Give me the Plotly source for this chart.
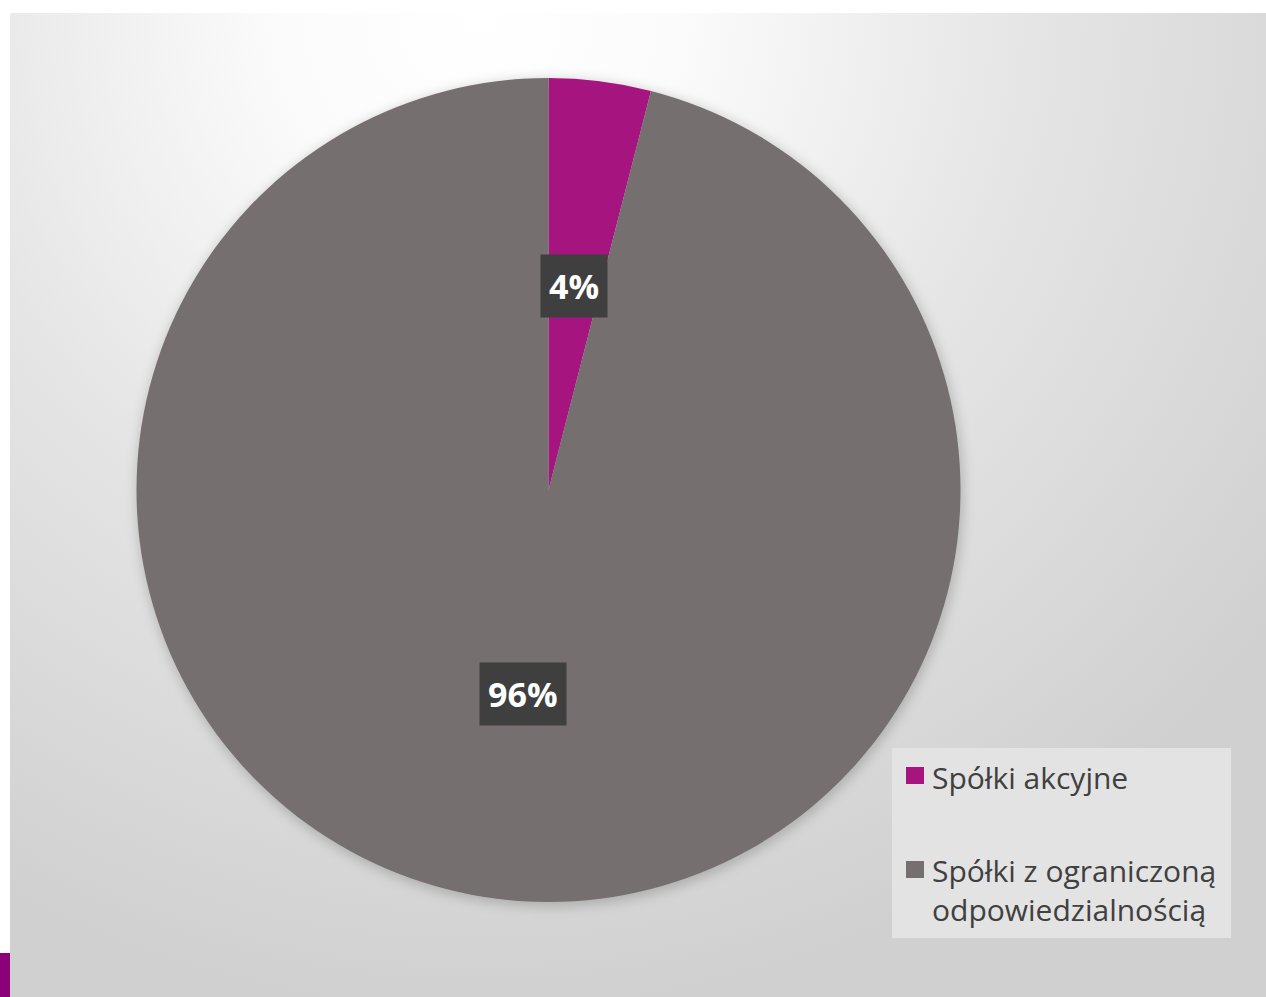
import math
import plotly.graph_objects as go

# Company legal forms share
categories = ["Spółki akcyjne", "Spółki z ograniczoną odpowiedzialnością"]
legend_labels = ["Spółki akcyjne", "Spółki z ograniczoną<br>odpowiedzialnością"]
values = [4, 96]
colors = ["#A5147F", "#756F6F"]

W, H = 1266, 997


def px(x):
    return x / W


def py(y):
    return 1 - y / H


# pie geometry (pixels)
cx, cy, r = 548.5, 490, 412

# radial gradient backdrop for the chart area
bg_svg = (
    "data:image/svg+xml;utf8,"
    "<svg xmlns='http://www.w3.org/2000/svg' width='1256' height='984'>"
    "<defs><radialGradient id='g' cx='470' cy='0' r='1000' gradientUnits='userSpaceOnUse'>"
    "<stop offset='0' stop-color='%23ffffff'/>"
    "<stop offset='0.2' stop-color='%23fbfbfb'/>"
    "<stop offset='0.55' stop-color='%23e5e5e5'/>"
    "<stop offset='1' stop-color='%23d0d0d0'/>"
    "</radialGradient>"
    "<filter id='b'><feGaussianBlur stdDeviation='6'/></filter></defs>"
    "<rect width='1256' height='984' fill='url(%23g)'/>"
    "<circle cx='540' cy='480' r='414' fill='%23000000' fill-opacity='0.18' filter='url(%23b)'/>"
    "</svg>"
)

fig = go.Figure()
fig.add_trace(go.Pie(
    labels=categories,
    values=values,
    marker=dict(colors=colors, line=dict(width=0)),
    sort=False,
    direction="clockwise",
    rotation=0,
    textinfo="none",
    showlegend=False,
    domain=dict(x=[px(cx - r), px(cx + r)], y=[py(cy + r), py(cy - r)]),
))

# percentage labels placed at half radius on each slice's mid-angle
total = sum(values)
annotations = []
cum = 0
for v in values:
    mid = 2 * math.pi * (cum + v / 2) / total
    cum += v
    lx = cx + 0.5 * r * math.sin(mid)
    ly = cy - 0.5 * r * math.cos(mid)
    annotations.append(dict(
        x=px(lx), y=py(ly), xref="paper", yref="paper",
        text=f"<b>{round(100 * v / total)}%</b>", showarrow=False,
        font=dict(family="Open Sans", size=34, color="white"),
        bgcolor="#3f3f3f", borderpad=8,
        xanchor="center", yanchor="middle",
    ))

# legend panel
shapes = [
    dict(type="rect", xref="paper", yref="paper",
         x0=px(892), x1=px(1231), y0=py(938), y1=py(748),
         fillcolor="#e3e3e3", line=dict(width=0), layer="above"),
    dict(type="rect", xref="paper", yref="paper",
         x0=px(0), x1=px(10), y0=py(997), y1=py(953),
         fillcolor="#8C0079", line=dict(width=0)),
]
item_tops = [767, 861]
text_centers = [777, 890]
for col, lab, top, tc in zip(colors, legend_labels, item_tops, text_centers):
    shapes.append(dict(type="rect", xref="paper", yref="paper",
                       x0=px(906), x1=px(924), y0=py(top + 17), y1=py(top),
                       fillcolor=col, line=dict(width=0), layer="above"))
    annotations.append(dict(
        x=px(930), y=py(tc), xref="paper", yref="paper",
        text=lab, showarrow=False, align="left",
        xanchor="left", yanchor="middle",
        font=dict(family="Open Sans", size=30, color="#404040"),
    ))

fig.update_layout(
    width=W, height=H,
    margin=dict(l=0, r=0, t=0, b=0),
    paper_bgcolor="white",
    plot_bgcolor="white",
    shapes=shapes,
    annotations=annotations,
    images=[dict(source=bg_svg, xref="paper", yref="paper",
                 x=px(10), y=py(13), sizex=px(W) - px(10), sizey=py(13) - py(H),
                 xanchor="left", yanchor="top", sizing="stretch", layer="below")],
)

fig.write_html("out.html")
